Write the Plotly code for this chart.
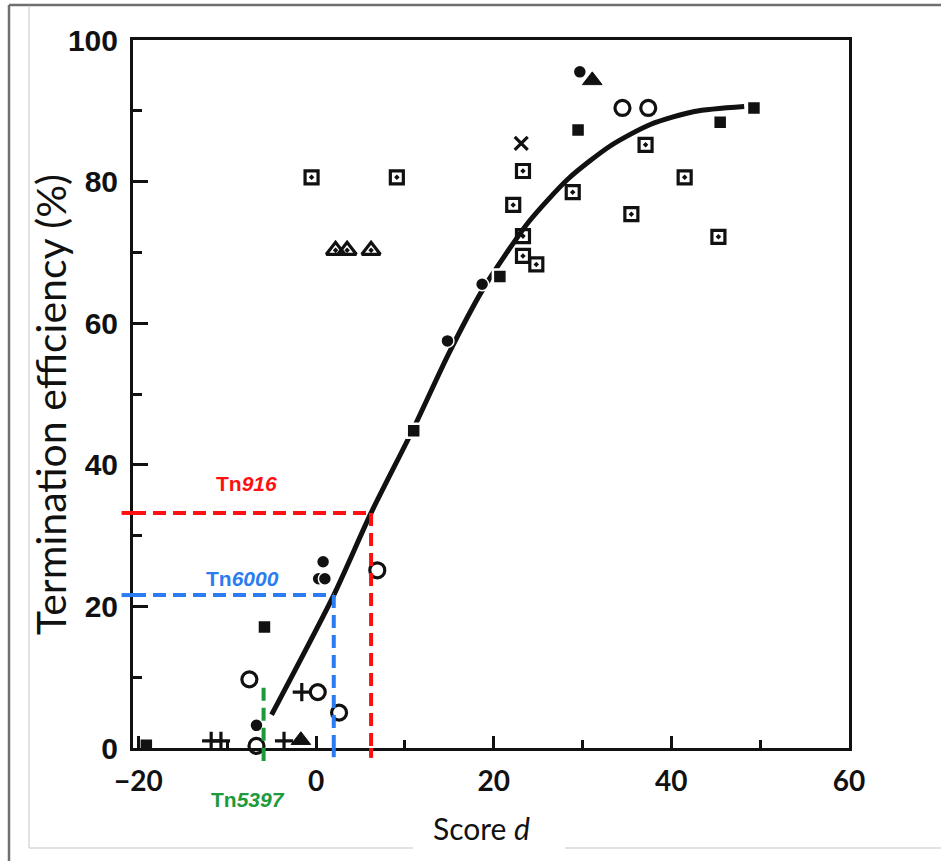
import plotly.graph_objects as go

# ---------------- data ----------------
sq_open_x = [-0.5, 9.1, 22.2, 23.3, 23.3, 23.3, 24.8, 28.9, 35.5, 37.1, 41.5, 45.3]
sq_open_y = [80.6, 80.6, 76.7, 81.5, 72.3, 69.5, 68.3, 78.5, 75.4, 85.2, 80.6, 72.2]

sq_fill_x = [49.3, 45.5, 29.5, 20.7, 11.0, -5.8, -19.1]
sq_fill_y = [90.4, 88.4, 87.3, 66.6, 44.8, 17.1, 0.4]

circ_open_x = [34.5, 37.4, 6.9, -7.5, 0.2, 2.6, -6.7]
circ_open_y = [90.4, 90.4, 25.1, 9.7, 7.9, 5.0, 0.3]

circ_fill_x = [29.7, 18.7, 14.8, 0.8, 0.3, 1.0, -6.7]
circ_fill_y = [95.5, 65.5, 57.5, 26.3, 23.9, 23.9, 3.2]

tri_open_x = [2.2, 3.5, 6.2]
tri_open_y = [70.3, 70.3, 70.3]

tri_fill_x = [31.1, -1.7]
tri_fill_y = [94.3, 1.1]

plus_x = [-11.8, -10.7, -3.6, -1.6]
plus_y = [1.0, 1.0, 1.0, 7.9]

cross_x = [23.1]
cross_y = [85.4]

curve_x = [-5.0, 2.0, 6.2, 11.0, 14.9, 18.7, 21.5, 24.0, 28.4, 33.2, 37.7, 42.6, 48.2]
curve_y = [4.7, 21.6, 33.2, 45.2, 55.6, 64.6, 70.0, 74.4, 80.4, 85.1, 88.1, 89.9, 90.6]

# transposons: score d, termination efficiency
tn_names = ["916", "6000", "5397"]
tn_score = [6.2, 2.0, -5.9]
tn_eff = [33.2, 21.6, 8.5]

x_ticks = [-20, 0, 20, 40, 60]
y_ticks = [0, 20, 40, 60, 80, 100]

# ---------------- styling ----------------
X_RANGE = [-20.6, 60.0]
Y_RANGE = [0, 100]
W, H = 941, 861
ML, MR, MT, MB = 133, 92, 40, 113
PW, PH = W - ML - MR, H - MT - MB
INK = "#111111"
tn_colors = ["#ff1010", "#2b7cf0", "#1d9a3c"]
tn_label_pos = [(-7.8, 37.4, "y"), (-8.3, 24.0, "y"), (-7.7, -0.073, "y domain")]
tn_h_stub = [True, True, False]
tn_v_stub = [-0.014, -0.013, -0.028]

def px_x(p):
    return (p - ML) / PW

def px_y(p):
    return (MT + PH - p) / PH

fig = go.Figure()

fig.add_trace(go.Scatter(x=curve_x, y=curve_y, mode="lines",
                         line=dict(color=INK, width=5, shape="spline", smoothing=0.7),
                         hoverinfo="skip", showlegend=False))

def add_markers(xs, ys, symbol, size, lw, lc=INK, color=INK):
    fig.add_trace(go.Scatter(x=xs, y=ys, mode="markers", cliponaxis=False, showlegend=False,
                             marker=dict(symbol=symbol, size=size, color=color,
                                         line=dict(color=lc, width=lw))))

add_markers(sq_open_x, sq_open_y, "square-open-dot", 13, 3.2)
add_markers(sq_fill_x, sq_fill_y, "square", 14, 2.5, lc="white")
add_markers(circ_open_x, circ_open_y, "circle-open", 15, 3.2)
add_markers(circ_fill_x, circ_fill_y, "circle", 13, 1.5, lc="white")
add_markers(tri_open_x, tri_open_y, "triangle-up-open-dot", 16, 3.2)
add_markers(tri_fill_x, tri_fill_y, "triangle-up", 17, 1)
add_markers(plus_x, plus_y, "cross-thin-open", 13, 3.2)
add_markers(cross_x, cross_y, "x-thin-open", 13, 3.2)

shapes = []
annotations = []
dash = "13px,7px"
for name, sx, sy, col, (lx, ly, lyref), hstub, vstub in zip(
        tn_names, tn_score, tn_eff, tn_colors, tn_label_pos, tn_h_stub, tn_v_stub):
    ln = dict(color=col, width=4, dash=dash)
    if hstub:
        shapes.append(dict(type="line", xref="x", yref="y", x0=X_RANGE[0], x1=sx, y0=sy, y1=sy,
                           line=ln, layer="above"))
        shapes.append(dict(type="line", xref="x domain", yref="y", x0=-0.016, x1=0.0, y0=sy, y1=sy,
                           line=ln, layer="above"))
    shapes.append(dict(type="line", xref="x", yref="y", x0=sx, x1=sx, y0=sy, y1=Y_RANGE[0],
                       line=ln, layer="above"))
    shapes.append(dict(type="line", xref="x", yref="y domain", x0=sx, x1=sx, y0=0.0, y1=vstub,
                       line=ln, layer="above"))
    annotations.append(dict(x=lx, y=ly, xref="x", yref=lyref, showarrow=False,
                            xanchor="center", yanchor="middle",
                            text=f"<b>Tn<i>{name}</i></b>",
                            font=dict(family="Liberation Sans, Arial, sans-serif", size=21, color=col)))

# screenshot border decorations
border_dark = "#707070"
border_light = "#d8d8d8"
shapes += [
    dict(type="line", xref="paper", yref="paper", x0=px_x(9), x1=px_x(W), y0=px_y(5), y1=px_y(5),
         line=dict(color=border_dark, width=2.5)),
    dict(type="line", xref="paper", yref="paper", x0=px_x(9), x1=px_x(9), y0=px_y(5), y1=px_y(H),
         line=dict(color=border_dark, width=2.5)),
    dict(type="line", xref="paper", yref="paper", x0=px_x(29), x1=px_x(29), y0=px_y(7), y1=px_y(848),
         line=dict(color=border_light, width=1.5)),
    dict(type="line", xref="paper", yref="paper", x0=px_x(29), x1=px_x(413), y0=px_y(848), y1=px_y(848),
         line=dict(color=border_light, width=1.5)),
    dict(type="line", xref="paper", yref="paper", x0=px_x(565), x1=px_x(W), y0=px_y(848), y1=px_y(848),
         line=dict(color=border_light, width=1.5)),
]

annotations.append(dict(x=px_x(481), y=px_y(828), xref="paper", yref="paper", showarrow=False,
                        xanchor="center", yanchor="middle",
                        text="Score <i>d</i>",
                        font=dict(family="Lato, Open Sans, sans-serif", size=30, color=INK)))
annotations.append(dict(x=px_x(50), y=px_y(405), xref="paper", yref="paper", showarrow=False,
                        xanchor="center", yanchor="middle",
                        text="Termination efficiency (%)", textangle=-90,
                        font=dict(family="Lato, Open Sans, sans-serif", size=41, color=INK)))

fig.update_layout(
    width=W, height=H, margin=dict(l=ML, r=MR, t=MT, b=MB),
    paper_bgcolor="white", plot_bgcolor="white",
    shapes=shapes, annotations=annotations, showlegend=False,
    xaxis=dict(range=X_RANGE, tickvals=x_ticks, ticktext=[str(v).replace("-", "\u2212") for v in x_ticks],
               ticks="inside", ticklen=12, tickwidth=3, tickcolor=INK,
               minor=dict(dtick=10, tick0=0, ticks="inside", ticklen=8, tickwidth=2.5, tickcolor=INK),
               showline=True, linewidth=3, linecolor=INK, mirror=True, showgrid=False, zeroline=False,
               ticklabelstandoff=6,
               tickfont=dict(family="Lato, Open Sans, sans-serif", size=28, color=INK, weight="bold")),
    yaxis=dict(range=Y_RANGE, tickvals=y_ticks,
               ticks="inside", ticklen=15, tickwidth=3, tickcolor=INK,
               minor=dict(dtick=10, tick0=0, ticks="inside", ticklen=9, tickwidth=2.5, tickcolor=INK),
               showline=True, linewidth=3, linecolor=INK, mirror=True, showgrid=False, zeroline=False,
               ticklabelstandoff=6,
               tickfont=dict(family="Liberation Sans, Arial, sans-serif",
                             size=30, color=INK, weight="bold")),
)

fig.write_html("out.html")
